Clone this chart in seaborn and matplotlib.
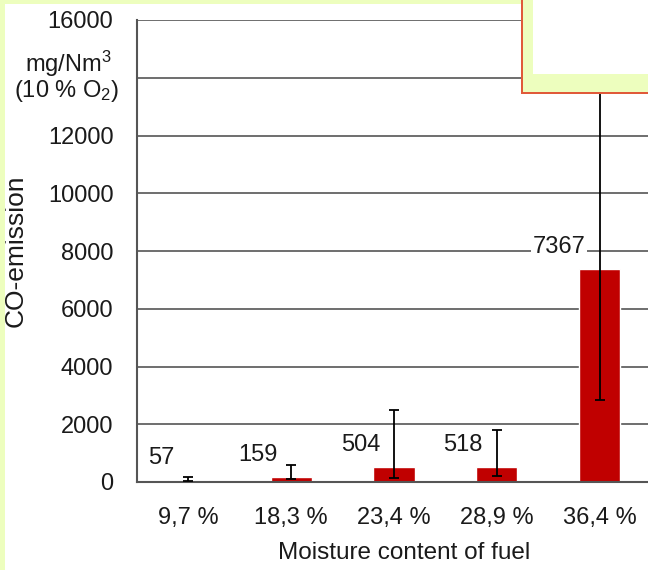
import seaborn as sns
import matplotlib.pyplot as plt
from matplotlib.patches import Rectangle

categories = ["9,7 %", "18,3 %", "23,4 %", "28,9 %", "36,4 %"]
co_values = [57, 159, 504, 518, 7367]
err_low = [20, 100, 150, 200, 2850]
err_high = [180, 580, 2500, 1800, 15000]
y_ticks = [0, 2000, 4000, 6000, 8000, 10000, 12000, 14000, 16000]
y_labels = ["0", "2000", "4000", "6000", "8000", "10000", "12000", "", "16000"]

sns.set_style("white")
plt.rcParams["font.family"] = ["Liberation Sans", "DejaVu Sans"]
plt.rcParams["mathtext.fontset"] = "custom"
plt.rcParams["mathtext.rm"] = "Liberation Sans"
plt.rcParams["mathtext.it"] = "Liberation Sans"

txt = "#1a1a1a"

fig = plt.figure(figsize=(6.48, 5.7), dpi=100)
fig.patch.set_facecolor("white")
ax = fig.add_axes([137 / 648, 1 - 482 / 570, 514 / 648, 462 / 570])

sns.barplot(
    x=categories,
    y=co_values,
    color="#C00000",
    saturation=1,
    width=0.4,
    ax=ax
)

xs = list(range(len(categories)))
yerr = [
    [v - lo for v, lo in zip(co_values, err_low)],
    [hi - v for v, hi in zip(co_values, err_high)]
]
ax.errorbar(
    xs, co_values, yerr=yerr,
    fmt="none", ecolor="black", elinewidth=1.3,
    capsize=3.5, capthick=1.3, zorder=3
)

for i, v in enumerate(co_values):
    bbox = None
    if v > 5000:
        bbox = dict(facecolor="white", edgecolor="none", pad=1)
    ax.annotate(
        str(v), xy=(i, v), xytext=(-14, 22),
        textcoords="offset pixels", ha="right", va="center",
        fontsize=17, color=txt, bbox=bbox, zorder=4
    )

ax.set_ylim(0, 16000)
ax.set_xlim(-0.5, 4.5)
ax.set_yticks(y_ticks)
ax.set_yticklabels(y_labels)
ax.grid(axis="y", color="#555555", linewidth=1.2)
ax.set_axisbelow(True)

ax.set_xticks([x + 0.5 for x in range(-1, 5)], minor=True)
ax.tick_params(axis="x", which="major", length=0, pad=18, labelsize=17, colors=txt)
ax.tick_params(axis="x", which="minor", length=6, width=1.2, color="#555555", direction="out")
ax.tick_params(axis="y", length=6, width=1.2, color="#555555", direction="out", pad=11, labelsize=17, labelcolor=txt)

for s in ["top", "right"]:
    ax.spines[s].set_visible(False)
for s in ["left", "bottom"]:
    ax.spines[s].set_color("#555555")
    ax.spines[s].set_linewidth(1.5)

ax.set_xlabel("Moisture content of fuel", fontsize=17.5, color=txt)
ax.xaxis.set_label_coords(0.52, -0.13)
ax.set_ylabel("CO-emission", fontsize=19, color=txt)
ax.yaxis.set_label_coords(-0.212, 0.5)

fig.text(68 / 648, 1 - 64 / 570, "mg/Nm$^3$", fontsize=17, ha="center", va="center", color=txt)
fig.text(67 / 648, 1 - 91 / 570, "(10 % O$_2$)", fontsize=17, ha="center", va="center", color=txt)

# slide decorations
yellow = "#EDFEBE"
fig.add_artist(Rectangle((0, 1 - 4 / 570), 1, 4 / 570, transform=fig.transFigure, facecolor=yellow, edgecolor="none", zorder=5))
fig.add_artist(Rectangle((0, 0), 5 / 648, 1, transform=fig.transFigure, facecolor=yellow, edgecolor="none", zorder=5))
fig.add_artist(Rectangle((521 / 648, 1 - 94 / 570), 127 / 648, 94 / 570, transform=fig.transFigure, facecolor="#E05A3A", edgecolor="none", zorder=5))
fig.add_artist(Rectangle((523 / 648, 1 - 92 / 570), 125 / 648, 92 / 570, transform=fig.transFigure, facecolor=yellow, edgecolor="none", zorder=6))
fig.add_artist(Rectangle((533 / 648, 1 - 74 / 570), 115 / 648, 74 / 570, transform=fig.transFigure, facecolor="white", edgecolor="none", zorder=7))

fig.savefig("out.png", dpi=100)
